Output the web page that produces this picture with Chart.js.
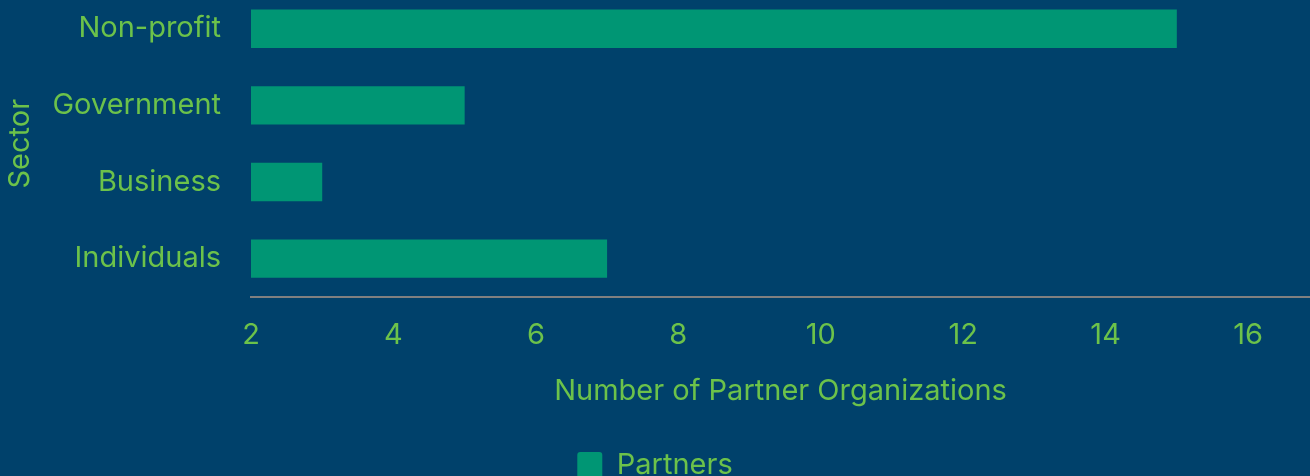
<!DOCTYPE html>
<html lang="en">
  <head>
    <meta charset="UTF-8" />
    <title>Partners by sector</title>
    <style>
      * {
        margin: 0;
        padding: 0;
        box-sizing: border-box;
      }

      body {
        width: 1310px;
        height: 476px;
        overflow: hidden;
        background: #00416b;
      }

      .chartBox {
        position: absolute;
        left: 0;
        top: -57px;
        width: 1310px;
        height: 551px;
      }
    </style>
  </head>
  <body>
    <div class="chartBox">
      <canvas id="myChart"></canvas>
    </div>

    <script src="https://cdn.jsdelivr.net/npm/chart.js"></script>

    <script>
      const sectors = ["Non-profit", "Government", "Business", "Individuals"];
      const partners = [15, 5, 3, 7];
      const xTicks = [2, 4, 6, 8, 10, 12, 14, 16];

      const textColor = "#6cc24a";
      const barColor = "#009674";
      const fontFamily = "Inter, sans-serif";

      Chart.defaults.font.family = fontFamily;
      Chart.defaults.font.size = 29;
      Chart.defaults.color = textColor;

      const ctx = document.getElementById("myChart");

      const data = {
        labels: sectors,
        datasets: [
          {
            label: "Partners",
            data: partners,
            backgroundColor: barColor,
            borderWidth: 0,
            categoryPercentage: 1,
            barPercentage: 0.5,
          },
        ],
      };

      const config = {
        type: "bar",
        data: data,
        options: {
          indexAxis: "y",
          responsive: true,
          maintainAspectRatio: false,
          animation: false,
          layout: {
            padding: { top: 10, right: 0, bottom: 4, left: 0 },
          },
          scales: {
            x: {
              min: 2,
              max: 16.87,
              grid: { display: false, drawTicks: false },
              border: { display: true, color: "#808080", width: 2 },
              ticks: { padding: 21, color: textColor },
              afterBuildTicks: (scale) => {
                scale.ticks = xTicks.map((v) => ({ value: v }));
              },
              afterFit: (scale) => {
                scale.height = 144;
              },
              title: {
                display: true,
                text: "Number of Partner Organizations",
                color: textColor,
                padding: { top: 0, bottom: 32 },
              },
            },
            y: {
              grid: { display: false, drawTicks: false },
              border: { display: false },
              ticks: { padding: 30, color: textColor },
              afterFit: (scale) => {
                scale.width = 251;
              },
              title: {
                display: true,
                text: "Sector",
                color: textColor,
                padding: { top: 3, bottom: 0 },
              },
            },
          },
          plugins: {
            legend: {
              position: "bottom",
              labels: {
                boxWidth: 25,
                boxHeight: 27,
                padding: 10,
                color: textColor,
                useBorderRadius: true,
                borderRadius: 3,
              },
            },
            tooltip: { enabled: false },
          },
        },
      };

      const myChart = new Chart(ctx, config);
    </script>
  </body>
</html>
